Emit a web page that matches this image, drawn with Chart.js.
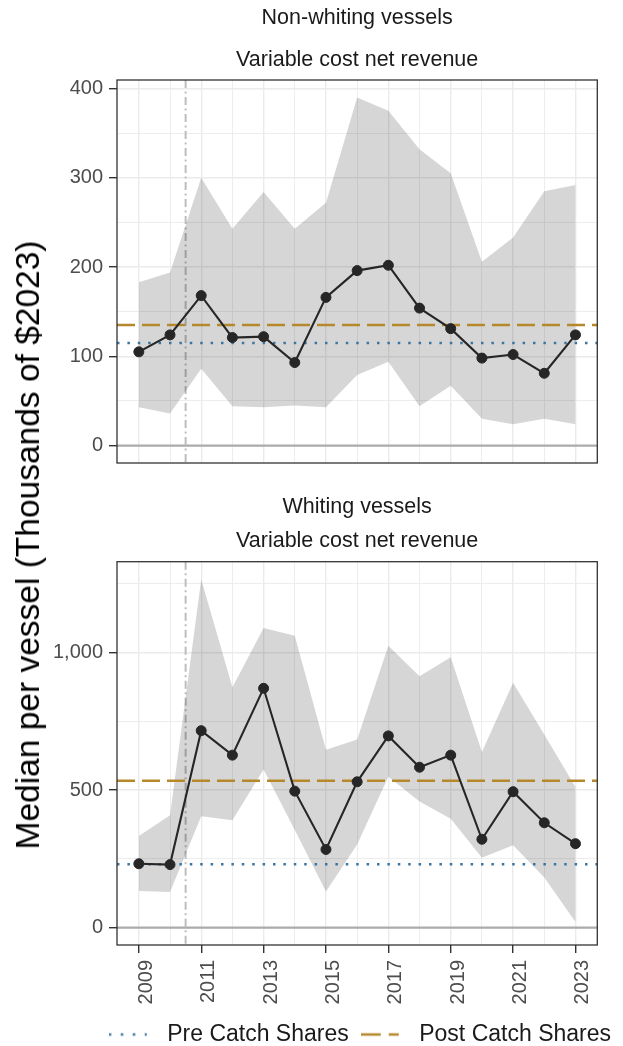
<!DOCTYPE html>
<html><head><meta charset="utf-8">
<script src="https://cdn.jsdelivr.net/npm/chart.js@4.4.1/dist/chart.umd.min.js"></script>
<style>
html,body{margin:0;padding:0;background:#fff;width:623px;height:1046px;overflow:hidden;position:relative;font-family:"Liberation Sans",Arial,Helvetica,sans-serif;}
canvas{position:absolute;left:0;}
#c1{top:0;}
#c2{top:470px;}
#ytitle{position:absolute;left:28px;top:545px;transform:translate(-50%,-50%) rotate(-90deg);white-space:nowrap;font-size:33.5px;color:#000;}
</style></head><body>
<canvas id="c1" width="623" height="470"></canvas>
<canvas id="c2" width="623" height="586"></canvas>
<div id="ytitle">Median per vessel (Thousands of $2023)</div>
<script>
// ---------------- data ----------------
const years = [2009,2010,2011,2012,2013,2014,2015,2016,2017,2018,2019,2020,2021,2022,2023];
const xTickYears = [2009,2011,2013,2015,2017,2019,2021,2023];

const nonWhitingMedian = [105,124,168,121,122,93,166,196,202,154,131,98,102,81,124];
const nonWhitingUpper  = [183,194,300,243,284,243,272,390,375,332,305,206,233,285,292];
const nonWhitingLower  = [43,36,86,44,43,45,43,79,94,44,67,30,24,30,24];
const nonWhitingPre = 115;
const nonWhitingPost = 135;

const whitingMedian = [232,229,716,627,870,496,284,530,697,583,627,321,494,381,305];
const whitingUpper  = [333,408,1267,874,1089,1061,647,684,1025,914,983,638,890,702,511];
const whitingLower  = [133,129,405,390,575,355,131,302,548,458,396,254,299,182,20];
const whitingPre = 230;
const whitingPost = 534;

const catchSharesStart = 2010.5;

const topYMajor = [0,100,200,300,400];
const topYMinor = [50,150,250,350];
const bottomYMajor = [0,500,1000];
const bottomYMinor = [250,750,1250];

const stripTitles = ['Non-whiting vessels','Whiting vessels'];
const stripSubtitle = 'Variable cost net revenue';
const legendLabels = ['Pre Catch Shares','Post Catch Shares'];

// axis limits
const X_MIN = 2008.3, X_MAX = 2023.7;
const TOP_Y = [-19.5, 409.5];
const BOT_Y = [-63.4, 1330.4];

// ---------------- styles ----------------
const FONT = '"Liberation Sans", Arial, Helvetica, sans-serif';
const C = {median:'#262626', ribbon:'rgba(0,0,0,0.16)', pre:'#3a76a2', post:'#b5882c',
  grid:'#ebebeb', zero:'#acacac', vline:'#bdbdbd', border:'#333333', tick:'#4d4d4d', text:'#1a1a1a', none:'rgba(0,0,0,0)'};
const PRE_DASH = [2.5, 7.9], POST_DASH = [18, 7];

function pts(vals){ return years.map((yr,i)=>({x:yr, y:vals[i]})); }
function hline(v){ return [{x:X_MIN, y:v},{x:X_MAX, y:v}]; }

function legendIcon(color, dash){
  const c = document.createElement('canvas'); c.width = 47; c.height = 6;
  const g = c.getContext('2d'); g.strokeStyle = color; g.lineWidth = 2.5; g.setLineDash(dash);
  g.beginPath(); g.moveTo(0,3); g.lineTo(38,3); g.stroke(); return c;
}

const refLines = {
  id:'refLines',
  beforeDatasetsDraw(chart){
    const {ctx, chartArea:a, scales:{x,y}} = chart;
    ctx.save();
    ctx.beginPath(); ctx.rect(a.left,a.top,a.width,a.height); ctx.clip();
    const y0 = y.getPixelForValue(0);
    ctx.strokeStyle = C.zero; ctx.lineWidth = 2.2; ctx.setLineDash([]);
    ctx.beginPath(); ctx.moveTo(a.left,y0); ctx.lineTo(a.right,y0); ctx.stroke();
    const xv = x.getPixelForValue(catchSharesStart);
    ctx.strokeStyle = C.vline; ctx.lineWidth = 2; ctx.setLineDash([8,3.5,2,3.5]);
    ctx.beginPath(); ctx.moveTo(xv,a.top); ctx.lineTo(xv,a.bottom); ctx.stroke();
    ctx.restore();
  },
  afterDatasetsDraw(chart){
    const {ctx, chartArea:a} = chart;
    ctx.save(); ctx.strokeStyle = C.border; ctx.lineWidth = 1.3; ctx.setLineDash([]);
    ctx.strokeRect(a.left, a.top, a.width, a.height); ctx.restore();
  }
};

const xLabels = {
  id:'xLabels',
  afterDraw(chart){
    const {ctx, chartArea:a, scales:{x}} = chart;
    ctx.save();
    ctx.font = '20px ' + FONT; ctx.fillStyle = C.tick;
    ctx.textAlign = 'right'; ctx.textBaseline = 'middle';
    xTickYears.forEach(v => {
      const px = x.getPixelForValue(v);
      ctx.save(); ctx.translate(px + 7.5, a.bottom + 15); ctx.rotate(-Math.PI/2);
      ctx.fillText(String(v), 0, 0); ctx.restore();
    });
    ctx.restore();
  }
};

function noPad(s){ s.paddingTop = 0; s.paddingBottom = 0; s.paddingLeft = 0; s.paddingRight = 0; }

function makeChart(id, cfg){
  const isBottom = cfg.bottom;
  const yTicks = cfg.major.concat(cfg.minor).sort((a,b)=>a-b);
  const datasets = [
    {label:'Median', data:pts(cfg.median), borderColor:C.median, borderWidth:2.1, pointRadius:5,
     pointBackgroundColor:C.median, pointBorderColor:C.median, pointBorderWidth:1, fill:false, tension:0},
    {label:legendLabels[0], data:hline(cfg.pre), borderColor:C.pre, borderWidth:2.5, borderDash:PRE_DASH, pointRadius:0, fill:false},
    {label:legendLabels[1], data:hline(cfg.post), borderColor:C.post, borderWidth:2.5, borderDash:POST_DASH, pointRadius:0, fill:false},
    {label:'Upper', data:pts(cfg.upper), borderColor:C.none, borderWidth:1, pointRadius:0, fill:'+1', backgroundColor:C.ribbon, tension:0},
    {label:'Lower', data:pts(cfg.lower), borderColor:C.none, borderWidth:1, pointRadius:0, fill:false, tension:0}
  ];
  const plugins = [refLines];
  if (isBottom) plugins.push(xLabels);
  const scales = {
    x:{type:'linear', min:X_MIN, max:X_MAX,
      afterBuildTicks:s=>{ s.ticks = years.map(v=>({value:v})); },
      ticks:{display:false},
      grid:{color:C.grid, lineWidth:c=>(c.tick && xTickYears.includes(c.tick.value))?1.4:0.9,
        drawTicks:isBottom, tickLength:8, tickWidth:1.4,
        tickColor:c=>(c.tick && xTickYears.includes(c.tick.value))?C.border:C.none},
      border:{display:false},
      afterFit:s=>{ s.height = isBottom ? 66 : 0; noPad(s); }
    },
    y:{type:'linear', position:'left', min:cfg.ylim[0], max:cfg.ylim[1],
      afterBuildTicks:s=>{ s.ticks = yTicks.map(v=>({value:v})); },
      ticks:{autoSkip:false, padding:6, color:C.tick, font:{family:FONT, size:20},
        callback:v=> cfg.major.includes(v) ? v.toLocaleString('en-US') : ''},
      grid:{color:C.grid, lineWidth:c=>(c.tick && cfg.major.includes(c.tick.value))?1.4:0.9,
        tickLength:8, tickWidth:1.4,
        tickColor:c=>(c.tick && cfg.major.includes(c.tick.value))?C.border:C.none},
      border:{display:false},
      afterFit:s=>{ s.width = 117; noPad(s); }
    }
  };
  if (cfg.rightSpacer) {
    scales.yRight = {type:'linear', position:'right', display:true,
      ticks:{display:false}, grid:{display:false, drawTicks:false}, border:{display:false},
      afterFit:s=>{ s.width = 25.7; noPad(s); }};
  }
  return new Chart(document.getElementById(id), {
    type:'line',
    data:{datasets},
    plugins,
    options:{
      responsive:false, animation:false, events:[],
      layout:{autoPadding:false, padding:{left:0, right:cfg.rightSpacer?0:25.7, top:0, bottom:isBottom?0:7}},
      scales,
      plugins:{
        tooltip:{enabled:false},
        title:{display:true, text:cfg.title, fullSize:false, color:C.text,
          font:{family:FONT, size:21.5, weight:'normal'}, padding:cfg.titlePad},
        subtitle:{display:true, text:stripSubtitle, fullSize:false, color:C.text,
          font:{family:FONT, size:21.5, weight:'normal'}, padding:cfg.subPad},
        legend: isBottom ? {
          display:true, position:'bottom', fullSize:true, align:'end',
          labels:{usePointStyle:true, pointStyleWidth:47, padding:12, color:C.text,
            font:{family:FONT, size:23},
            generateLabels:()=>[
              {text:legendLabels[0], pointStyle:legendIcon(C.pre, [2.5,9.5]), fillStyle:C.pre, strokeStyle:C.pre, lineWidth:0, hidden:false, datasetIndex:1, fontColor:C.text},
              {text:legendLabels[1], pointStyle:legendIcon(C.post, [20,8]), fillStyle:C.post, strokeStyle:C.post, lineWidth:0, hidden:false, datasetIndex:2, fontColor:C.text}
            ]}
        } : {display:false}
      }
    }
  });
}

makeChart('c1', {bottom:false, rightSpacer:false, median:nonWhitingMedian, upper:nonWhitingUpper, lower:nonWhitingLower,
  pre:nonWhitingPre, post:nonWhitingPost, major:topYMajor, minor:topYMinor, ylim:TOP_Y,
  title:stripTitles[0], titlePad:{top:5.1,bottom:16.2}, subPad:{top:0,bottom:7.1}});
makeChart('c2', {bottom:true, rightSpacer:true, median:whitingMedian, upper:whitingUpper, lower:whitingLower,
  pre:whitingPre, post:whitingPost, major:bottomYMajor, minor:bottomYMinor, ylim:BOT_Y,
  title:stripTitles[1], titlePad:{top:24.1,bottom:8.2}, subPad:{top:0,bottom:7.8}});
</script>
</body></html>
